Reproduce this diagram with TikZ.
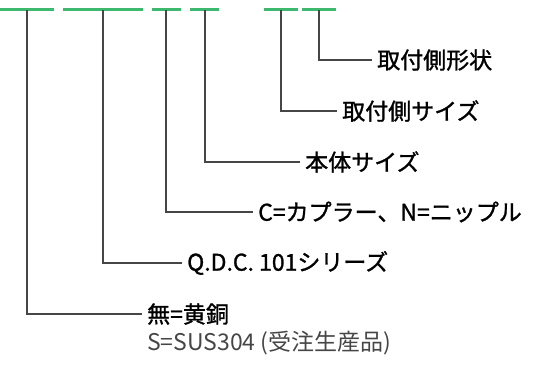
\documentclass[tikz,border=0pt]{standalone}
\usepackage{fontspec}
\setmainfont{Noto Sans CJK JP}
\newfontfamily\medfont[FakeBold=1.2]{Noto Sans CJK JP}
\definecolor{codegreen}{RGB}{60,185,110}
\definecolor{leadgray}{RGB}{70,70,70}
\tikzset{
  codebar/.style={codegreen, line width=3pt},
  lead/.style={leadgray, line width=1.1pt},
  item/.style={anchor=west, inner sep=0pt, font=\fontsize{23}{27}\selectfont},
  itemb/.style={item, font=\fontsize{23}{27}\selectfont\medfont},
}
\begin{document}
\begin{tikzpicture}[x=1pt,y=-1pt]
\useasboundingbox (0,0) rectangle (537,364);
%\draw[help lines] (0,0) grid[step=50] (537,364);
% code digits
\draw[codebar] (0,9) -- (54,9);
\draw[codebar] (63,9) -- (143,9);
\draw[codebar] (152,9) -- (181,9);
\draw[codebar] (190,9) -- (219,9);
\draw[codebar] (264,9) -- (298,9);
\draw[codebar] (302,9) -- (336,9);
\coordinate (mat) at (27,10);
\coordinate (ser) at (103,10);
\coordinate (typ) at (166,10);
\coordinate (bsz) at (205,10);
\coordinate (asz) at (281,10);
\coordinate (ash) at (319,10);
% labels
\node[itemb] (shape) at (377,60) {取付側形状};
\node[itemb] (asize) at (342,111) {取付側サイズ};
\node[itemb] (bsize) at (305,162) {本体サイズ};
\node[itemb] (cn) at (258,212) {C=カプラー、N=ニップル};
\node[itemb] (qdc) at (187,263) {Q.D.C. 101シリーズ};
\node[itemb] (brass) at (147,314) {無=黄銅};
\node[item, text=leadgray] (sus) at (147,343) {S=SUS304 (受注生産品)};
% leaders
\draw[lead] (ash) |- ([xshift=-5pt]shape.west);
\draw[lead] (asz) |- ([xshift=-5pt]asize.west);
\draw[lead] (bsz) |- ([xshift=-5pt]bsize.west);
\draw[lead] (typ) |- ([xshift=-5pt]cn.west);
\draw[lead] (ser) |- ([xshift=-5pt]qdc.west);
\draw[lead] (mat) |- ([xshift=-5pt]brass.west);
\end{tikzpicture}
\end{document}
